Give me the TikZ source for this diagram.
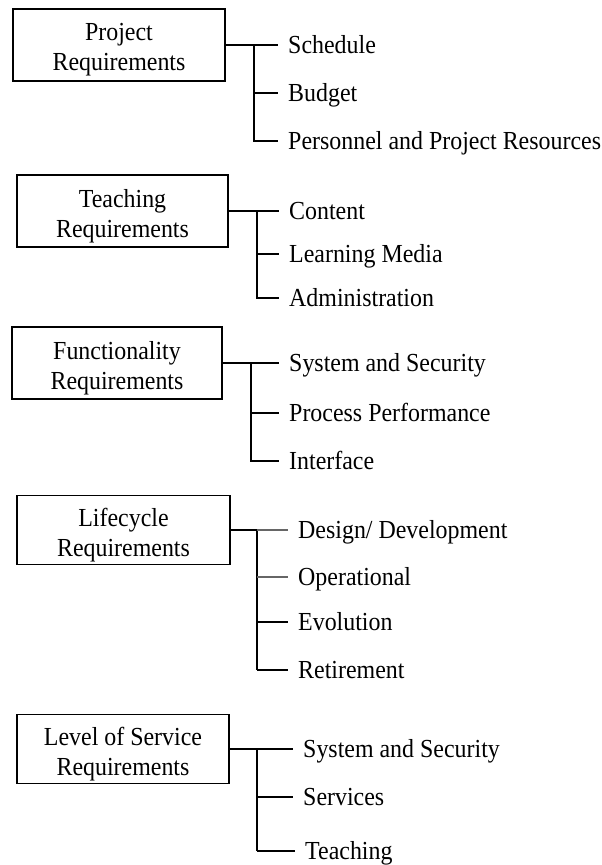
\documentclass[tikz,border=0pt]{standalone}
\usepackage{fontspec}
\setmainfont[FakeStretch=0.92]{Liberation Serif}
\begin{document}
\begin{tikzpicture}[x=1pt,y=-1pt,
  reqbox/.style={draw, line width=1.1pt, inner sep=0pt},
  boxtext/.style={align=center, inner sep=0pt, font=\fontsize{26}{30}\selectfont},
  item/.style={anchor=west, inner xsep=10pt, inner ysep=0pt,
    text height=20pt, text depth=4pt, font=\fontsize{26}{30}\selectfont},
  link/.style={line width=1.2pt},
  trunk/.style={line width=1.7pt},
  faint/.style={line width=1.2pt, black!60}]
\useasboundingbox (0,0) rectangle (602,865);

% ---------- Project requirements ----------
\node[reqbox, minimum width=212pt, minimum height=72pt] (b1) at (119,45) {};
\node[boxtext] (b1t) at ([yshift=-5pt]b1.center) {Project\\Requirements};
\node[item] (p1) at (278,45)  {Schedule};
\node[item] (p2) at (278,93)  {Budget};
\node[item] (p3) at (278,141) {Personnel and Project Resources};
\coordinate (j1) at (254,45);
\draw[link] (b1.east) -- (p1.west);
\draw[link] (j1) |- (p3.west);
\draw[link] (j1 |- p2.west) -- (p2.west);

% ---------- Teaching requirements ----------
\node[reqbox, minimum width=211pt, minimum height=72pt] (b2) at (122.5,211) {};
\node[boxtext] (b2t) at ([yshift=-5pt]b2.center) {Teaching\\Requirements};
\node[item] (t1) at (279,211) {Content};
\node[item] (t2) at (279,254) {Learning Media};
\node[item] (t3) at (279,298) {Administration};
\coordinate (j2) at (257,211);
\draw[link] (b2.east) -- (t1.west);
\draw[link] (j2) |- (t3.west);
\draw[link] (j2 |- t2.west) -- (t2.west);

% ---------- Functionality requirements ----------
\node[reqbox, minimum width=210pt, minimum height=72pt] (b3) at (117,363) {};
\node[boxtext] (b3t) at ([yshift=-5pt]b3.center) {Functionality\\Requirements};
\node[item] (f1) at (279,363) {System and Security};
\node[item] (f2) at (279,413) {Process Performance};
\node[item] (f3) at (279,461) {Interface};
\coordinate (j3) at (251,363);
\draw[link] (b3.east) -- (f1.west);
\draw[link] (j3) |- (f3.west);
\draw[link] (j3 |- f2.west) -- (f2.west);

% ---------- Lifecycle requirements ----------
\node[reqbox, minimum width=213pt, minimum height=69pt] (b4) at (123.5,530) {};
\node[boxtext] (b4t) at ([yshift=-5pt]b4.center) {Lifecycle\\Requirements};
\node[item] (l1) at (288,530) {Design/ Development};
\node[item] (l2) at (288,577) {Operational};
\node[item] (l3) at (288,622) {Evolution};
\node[item] (l4) at (288,670) {Retirement};
\coordinate (j4) at (257,530);
\draw[trunk] (b4.east) -- (j4) -- (j4 |- l4.west);
\draw[faint] (j4) -- (l1.west);
\draw[faint] (j4 |- l2.west) -- (l2.west);
\draw[link] (j4 |- l3.west) -- (l3.west);
\draw[link] (j4 |- l4.west) -- (l4.west);

% ---------- Level of service requirements ----------
\node[reqbox, minimum width=212pt, minimum height=69pt] (b5) at (123,749) {};
\node[boxtext] (b5t) at ([yshift=-5pt]b5.center) {Level of Service\\Requirements};
\node[item] (s1) at (293,749) {System and Security};
\node[item] (s2) at (293,797) {Services};
\node[item] (s3) at (295,851) {Teaching};
\coordinate (j5) at (257,749);
\draw[trunk] (b5.east) -- (j5) -- (j5 |- s3.west);
\draw[link] (j5) -- (s1.west);
\draw[link] (j5 |- s2.west) -- (s2.west);
\draw[link] (j5 |- s3.west) -- (s3.west);
\end{tikzpicture}
\end{document}
